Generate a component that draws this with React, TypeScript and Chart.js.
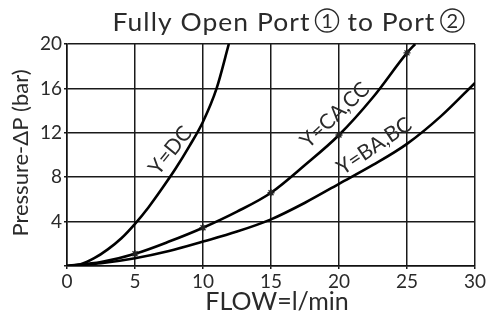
import React, { useEffect, useRef } from "react";
import { Chart, registerables } from "chart.js";

Chart.register(...registerables);

const FONT = "Lato, 'DejaVu Sans', sans-serif";

// Y=DC curve
const dcFlow = [0, 1, 2, 3, 4, 5, 6, 7, 8, 9, 10, 11, 11.9];
const dcPressure = [0, 0.15, 0.7, 1.5, 2.5, 3.8, 5.3, 7.0, 8.8, 10.8, 13.0, 16.0, 20.0];

// Y=CA,CC curve
const caFlow = [0, 2.5, 5, 7.5, 10, 12.5, 15, 17.5, 20, 22.5, 25, 25.6];
const caPressure = [0, 0.35, 1.1, 2.2, 3.45, 4.9, 6.6, 9.1, 11.8, 15.2, 19.2, 20.0];
const caMarkers = [5, 10, 15, 20, 25];

// Y=BA,BC curve
const baFlow = [0, 2.5, 5, 7.5, 10, 12.5, 15, 17.5, 20, 22.5, 25, 27.5, 30];
const baPressure = [0, 0.25, 0.7, 1.35, 2.2, 3.1, 4.2, 5.7, 7.4, 9.1, 11.0, 13.5, 16.5];

const xTicks = [0, 5, 10, 15, 20, 25, 30];
const yTicks = [4, 8, 12, 16, 20];

const curveLabels = [
  { text: "Y=DC", x: 7.6, y: 10.4, angle: -51 },
  { text: "Y=CA,CC", x: 19.7, y: 13.6, angle: -43 },
  { text: "Y=BA,BC", x: 22.6, y: 10.8, angle: -34 },
];

const titleParts = ["Fully Open Port", "1", "to Port", "2"];

const toPts = (xs: number[], ys: number[]) => xs.map((x, i) => ({ x, y: ys[i] }));

const overlayPlugin = {
  id: "overlay",
  afterDraw(chart: any) {
    const { ctx, chartArea, scales } = chart;
    ctx.save();
    ctx.fillStyle = "#2a2a2a";
    ctx.strokeStyle = "#2a2a2a";
    // title
    ctx.font = `25px ${FONT}`;
    (ctx as any).letterSpacing = "1px";
    ctx.textBaseline = "alphabetic";
    ctx.textAlign = "left";
    const base = 31;
    const sx = 198 / ctx.measureText(titleParts[0]).width;
    const r = 11.5;
    const drawStretched = (s: string, x0: number) => {
      ctx.save();
      ctx.translate(x0, base);
      ctx.scale(sx, 1);
      ctx.fillText(s, 0, 0);
      ctx.restore();
      return ctx.measureText(s).width * sx;
    };
    const drawCircled = (cx: number, s: string) => {
      ctx.save();
      (ctx as any).letterSpacing = "0px";
      ctx.lineWidth = 1.4;
      ctx.beginPath();
      ctx.arc(cx, base - 10.5, r, 0, Math.PI * 2);
      ctx.stroke();
      ctx.font = `20px ${FONT}`;
      ctx.textAlign = "center";
      ctx.fillText(s, cx, base - 3.5);
      ctx.restore();
    };
    let x = 112.5;
    x += drawStretched(titleParts[0], x);
    drawCircled(x + 16.5, titleParts[1]);
    x += 16.5 + 20.5;
    x += drawStretched(titleParts[2], x);
    drawCircled(x + 17, titleParts[3]);
    (ctx as any).letterSpacing = "0px";

    // x axis title
    ctx.font = `25px ${FONT}`;
    ctx.textAlign = "center";
    ctx.fillText("FLOW=l/min", (chartArea.left + chartArea.right) / 2 + 6, 310);

    // y axis title
    ctx.save();
    ctx.translate(28, (chartArea.top + chartArea.bottom) / 2 - 2);
    ctx.rotate(-Math.PI / 2);
    ctx.font = `22px ${FONT}`;
    ctx.textAlign = "center";
    ctx.fillText("Pressure-\u0394P (bar)", 0, 0);
    ctx.restore();

    // curve labels
    ctx.font = `21px ${FONT}`;
    ctx.textAlign = "center";
    ctx.textBaseline = "middle";
    curveLabels.forEach((l) => {
      ctx.save();
      ctx.translate(scales.x.getPixelForValue(l.x), scales.y.getPixelForValue(l.y));
      ctx.rotate((l.angle * Math.PI) / 180);
      ctx.fillText(l.text, 0, 0);
      ctx.restore();
    });
    ctx.restore();
  },
};

export default function App() {
  const ref = useRef<HTMLCanvasElement>(null);
  useEffect(() => {
    const canvas = ref.current!;
    const lineBase = {
      borderColor: "#000",
      backgroundColor: "#000",
      borderWidth: 2.6,
      cubicInterpolationMode: "monotone" as const,
      fill: false,
      pointRadius: 0,
    };
    const chart = new Chart(canvas, {
      type: "scatter",
      data: {
        datasets: [
          { ...lineBase, label: "Y=DC", data: toPts(dcFlow, dcPressure), showLine: true },
          {
            ...lineBase,
            label: "Y=CA,CC",
            data: toPts(caFlow, caPressure),
            showLine: true,
            pointStyle: "star",
            pointBorderColor: "#222",
            pointBorderWidth: 1.3,
            pointRadius: (c: any) => (caMarkers.includes(caFlow[c.dataIndex]) ? 3.5 : 0),
          },
          { ...lineBase, label: "Y=BA,BC", data: toPts(baFlow, baPressure), showLine: true },
        ],
      },
      options: {
        responsive: false,
        animation: false,
        events: [],
        layout: { padding: { top: 44, right: 14, left: 0, bottom: 0 } },
        plugins: { legend: { display: false }, tooltip: { enabled: false }, title: { display: false } },
        scales: {
          x: {
            type: "linear",
            min: 0,
            max: 30,
            afterBuildTicks: (s: any) => {
              s.ticks = xTicks.map((v) => ({ value: v }));
            },
            afterFit: (s: any) => {
              s.height = 49;
            },
            ticks: { color: "#2a2a2a", font: { family: FONT, size: 19 }, padding: 1, maxRotation: 0 },
            grid: { color: "#1a1a1a", lineWidth: 1.5, tickLength: 3 },
            border: { color: "#111", width: 1.5 },
          },
          y: {
            type: "linear",
            min: 0,
            max: 20,
            afterBuildTicks: (s: any) => {
              s.ticks = [0, ...yTicks].map((v) => ({ value: v }));
            },
            afterFit: (s: any) => {
              s.width = 67;
            },
            ticks: {
              color: "#2a2a2a",
              font: { family: FONT, size: 19 },
              padding: 2,
              callback: (v: any) => (v === 0 ? "" : String(v)),
            },
            grid: { color: "#1a1a1a", lineWidth: 1.5, tickLength: 3 },
            border: { color: "#111", width: 1.5 },
          },
        },
      },
      plugins: [overlayPlugin],
    } as any);
    return () => chart.destroy();
  }, []);
  return (
    <div style={{ position: "absolute", left: 0, top: 0, width: 489, height: 315, background: "#fff" }}>
      <canvas ref={ref} width={489} height={315} style={{ display: "block" }} />
    </div>
  );
}
